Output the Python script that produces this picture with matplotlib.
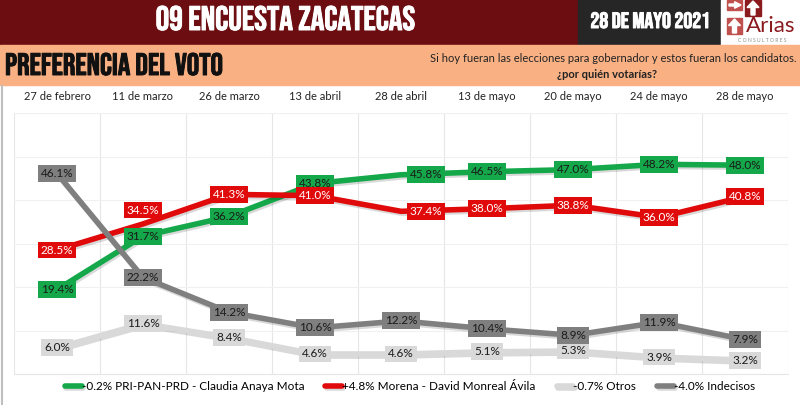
import matplotlib
matplotlib.use('Agg')
import matplotlib.pyplot as plt
import matplotlib.patheffects as pe
from matplotlib.patches import Rectangle, FancyArrow
from matplotlib.lines import Line2D

dates = ['27 de febrero', '11 de marzo', '26 de marzo', '13 de abril', '28 de abril',
         '13 de mayo', '20 de mayo', '24 de mayo', '28 de mayo']
pri = [19.4, 31.7, 36.2, 43.8, 45.8, 46.5, 47.0, 48.2, 48.0]
morena = [28.5, 34.5, 41.3, 41.0, 37.4, 38.0, 38.8, 36.0, 40.8]
otros = [6.0, 11.6, 8.4, 4.6, 4.6, 5.1, 5.3, 3.9, 3.2]
indecisos = [46.1, 22.2, 14.2, 10.6, 12.2, 10.4, 8.9, 11.9, 7.9]
names = ['-0.2% PRI-PAN-PRD - Claudia Anaya Mota', '+4.8% Morena - David Monreal Ávila',
         '-0.7% Otros', '-4.0% Indecisos']

colors = ['#14a84a', '#e00a0a', '#d9d9d9', '#7f7f7f']
txt_colors = ['#1a1a1a', 'white', '#1a1a1a', '#1a1a1a']

# label nudges in points (series index, point index) -> (dx, dy)
nudge = {(1, 1): (0, 10), (0, 4): (18, 0), (1, 4): (18, 0)}

W, H = 800, 405
fig = plt.figure(figsize=(8, 4.05), dpi=100)
body = ['Lato', 'DejaVu Sans']
head = ['Bebas Neue', 'Oswald', 'DejaVu Sans']


def fx(x):
    return x / W


def fy(y):
    return 1 - y / H


def box(x0, y0, x1, y1, color, z=0):
    fig.patches.append(Rectangle((fx(x0), fy(y1)), fx(x1 - x0), (y1 - y0) / H,
                                 transform=fig.transFigure, color=color, zorder=z))


def heavy(c):
    # fake a bolder cut of the condensed font
    return [pe.withStroke(linewidth=0.7, foreground=c)]


# header bands
box(0, 0, 578, 45, '#6c0e11')
box(578, 0, 721, 45, '#262626')
box(721, 0, 800, 45, 'white')
box(0, 45, 800, 85, '#f9b184')

fig.text(fx(285), fy(30), '09 ENCUESTA ZACATECAS', color='white', fontsize=24.5,
         family=head, ha='center', va='baseline', path_effects=heavy('white'))
fig.text(fx(650), fy(28), '28 DE MAYO 2021', color='white', fontsize=16,
         family=head, ha='center', va='baseline', path_effects=heavy('white'))
fig.text(fx(5), fy(75), 'PREFERENCIA DEL VOTO', color='#111111', fontsize=22.4,
         family=head, ha='left', va='baseline', path_effects=heavy('#111111'))
fig.text(fx(796), fy(58), 'Si hoy fueran las elecciones para gobernador y estos fueran los candidatos.',
         color='#222222', fontsize=8, family=body, ha='right', va='center')
fig.text(fx(607), fy(74), '¿por quién votarías?', color='#222222', fontsize=8,
         fontweight='bold', family=body, ha='center', va='center')

# logo
box(727, 0, 742, 10, '#c0504d', 1)
box(745, 0, 761, 16, '#8b1a1f', 1)
box(727, 18, 742, 34, '#c0504d', 1)
for x0, y0, dx, dy in [(729, 5, 12, 0), (753, 15, 0, -14), (734.5, 33, 0, -14)]:
    fig.patches.append(FancyArrow(fx(x0), fy(y0), dx / W, -dy / H, width=0.005,
                                  head_width=0.016 if dx else 0.015,
                                  head_length=0.008 if dx else 0.016,
                                  length_includes_head=True, color='white',
                                  transform=fig.transFigure, zorder=2))
fig.text(fx(771), fy(26), 'Arias', color='#8b1a1f', fontsize=16, family=body,
         ha='center', va='center')
fig.text(fx(762), fy(40), 'C O N S U L T O R E S', color='#8c8c8c', fontsize=3.6,
         family=body, ha='center', va='center')

# left frame line
fig.lines.append(Line2D([fx(2), fx(2)], [fy(86), 0], transform=fig.transFigure,
                        color='#bfbfbf', lw=1.5))

ax = fig.add_axes([fx(14), fy(374), fx(788) - fx(14), (374 - 113) / H])
x = list(range(len(dates)))
series = [pri, morena, otros, indecisos]
for i, vals in enumerate(series):
    ax.plot(x, vals, color=colors[i], lw=4, solid_capstyle='round', label=names[i],
            zorder=2 + i,
            path_effects=[pe.SimpleLineShadow(offset=(1, -1.5), alpha=0.15), pe.Normal()])
for i, vals in enumerate(series):
    for j, v in enumerate(vals):
        dx, dy = nudge.get((i, j), (0, 0))
        ax.annotate(f'{v:.1f}%', (j, v), xytext=(dx, dy), textcoords='offset points',
                    ha='center', va='center', fontsize=8.5, family=body,
                    color=txt_colors[i], zorder=10,
                    bbox=dict(boxstyle='square,pad=0.25', fc=colors[i], ec='none'))

ax.set_xlim(-0.5, len(dates) - 0.5)
ax.set_ylim(0, 60)
ax.set_yticks(range(0, 61, 10))
ax.set_yticklabels([])
ax.tick_params(axis='y', length=0)
ax.xaxis.tick_top()
ax.set_xticks(x)
ax.set_xticklabels(dates, fontsize=8, family=body, color='#222222')
ax.tick_params(axis='x', length=0, pad=8)
ax.set_xticks([k - 0.5 for k in range(len(dates) + 1)], minor=True)
ax.tick_params(axis='x', which='minor', length=0)
ax.grid(axis='y', color='#f0f0f0', lw=0.8)
ax.grid(axis='x', which='minor', color='#e6e6e6', lw=0.8)
ax.grid(axis='x', which='major', visible=False)
for s in ['top', 'left', 'right']:
    ax.spines[s].set_visible(False)
ax.spines['bottom'].set_color('#e6e6e6')

fig.legend(loc='center', bbox_to_anchor=(fx(410), fy(387)), ncol=4, frameon=False,
           prop={'family': body, 'size': 8.5}, handlelength=1.4, handletextpad=0.0,
           columnspacing=1.8)

fig.savefig('out.png', dpi=100)
